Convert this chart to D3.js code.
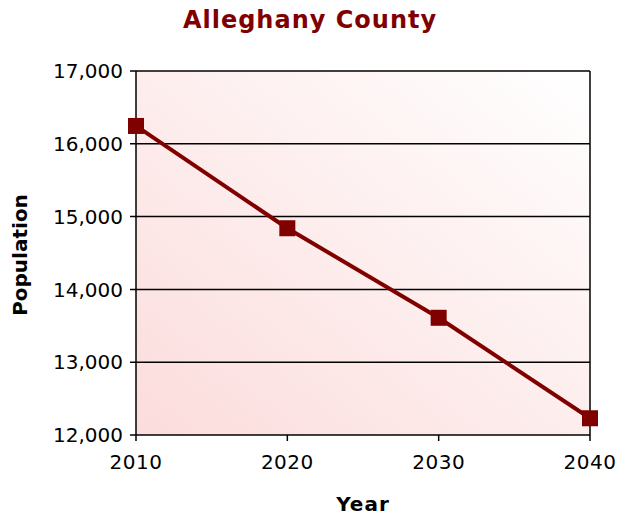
<!DOCTYPE html>
<html>
<head>
<meta charset="utf-8">
<script src="https://d3js.org/d3.v7.min.js"></script>
<style>
  body { margin: 0; background: #fff; }
  text { font-family: "DejaVu Sans", Verdana, sans-serif; }
</style>
</head>
<body>
<svg id="chart"></svg>
<script>
// data
const years = [2010, 2020, 2030, 2040];
const population = [16245, 14840, 13610, 12230];
const yTicks = [12000, 13000, 14000, 15000, 16000, 17000];

const width = 618, height = 519;
const margin = {top: 71, right: 28, bottom: 84, left: 136};

const svg = d3.select("#chart")
  .attr("width", width)
  .attr("height", height);

const defs = svg.append("defs");
const grad = defs.append("linearGradient")
  .attr("id", "bg")
  .attr("x1", "0%").attr("y1", "100%")
  .attr("x2", "100%").attr("y2", "0%");
grad.append("stop").attr("offset", "0%").attr("stop-color", "#fcdcdc");
grad.append("stop").attr("offset", "100%").attr("stop-color", "#ffffff");

const x = d3.scaleLinear()
  .domain([2010, 2040])
  .range([margin.left, width - margin.right]);

const y = d3.scaleLinear()
  .domain([12000, 17000])
  .range([height - margin.bottom, margin.top]);

// plot background
svg.append("rect")
  .attr("x", x(2010))
  .attr("y", y(17000))
  .attr("width", x(2040) - x(2010))
  .attr("height", y(12000) - y(17000))
  .attr("fill", "url(#bg)");

// horizontal grid lines
svg.append("g")
  .selectAll("line")
  .data(yTicks)
  .join("line")
  .attr("x1", x(2010) - 6)
  .attr("x2", x(2040))
  .attr("y1", d => y(d))
  .attr("y2", d => y(d))
  .attr("stroke", "#000")
  .attr("stroke-width", 1.5);

// y axis labels
svg.append("g")
  .selectAll("text")
  .data(yTicks)
  .join("text")
  .attr("x", x(2010) - 13)
  .attr("y", d => y(d))
  .attr("dy", "0.36em")
  .attr("text-anchor", "end")
  .attr("font-size", 20)
  .attr("fill", "#000")
  .text(d => d3.format(",")(d));

// left and right vertical borders
svg.append("g")
  .selectAll("line")
  .data([2010, 2040])
  .join("line")
  .attr("x1", d => x(d))
  .attr("x2", d => x(d))
  .attr("y1", y(17000))
  .attr("y2", y(12000))
  .attr("stroke", "#000")
  .attr("stroke-width", 1.5);

// x ticks
svg.append("g")
  .selectAll("line")
  .data(years)
  .join("line")
  .attr("x1", d => x(d))
  .attr("x2", d => x(d))
  .attr("y1", y(12000))
  .attr("y2", y(12000) + 6)
  .attr("stroke", "#000")
  .attr("stroke-width", 1.5);

svg.append("g")
  .selectAll("text")
  .data(years)
  .join("text")
  .attr("x", d => x(d))
  .attr("y", y(12000) + 34)
  .attr("text-anchor", "middle")
  .attr("font-size", 20)
  .attr("letter-spacing", 0.5)
  .attr("fill", "#000")
  .text(d => d);

// line
const pts = years.map((yr, i) => ({year: yr, value: population[i]}));
svg.append("path")
  .datum(pts)
  .attr("fill", "none")
  .attr("stroke", "#800000")
  .attr("stroke-width", 4)
  .attr("d", d3.line().x(d => x(d.year)).y(d => y(d.value)));

svg.append("g")
  .selectAll("rect")
  .data(pts)
  .join("rect")
  .attr("x", d => x(d.year) - 8)
  .attr("y", d => y(d.value) - 8)
  .attr("width", 16)
  .attr("height", 16)
  .attr("fill", "#800000");

// title
svg.append("text")
  .attr("x", 310)
  .attr("y", 28)
  .attr("text-anchor", "middle")
  .attr("font-size", 24)
  .attr("font-weight", "bold")
  .attr("letter-spacing", 1)
  .attr("fill", "#800000")
  .text("Alleghany County");

// axis titles
svg.append("text")
  .attr("x", 363)
  .attr("y", 511)
  .attr("text-anchor", "middle")
  .attr("font-size", 20)
  .attr("font-weight", "bold")
  .attr("letter-spacing", 1)
  .attr("fill", "#000")
  .text("Year");

svg.append("text")
  .attr("transform", "translate(27,255) rotate(-90)")
  .attr("text-anchor", "middle")
  .attr("font-size", 20)
  .attr("font-weight", "bold")
  .attr("fill", "#000")
  .text("Population");
</script>
</body>
</html>
